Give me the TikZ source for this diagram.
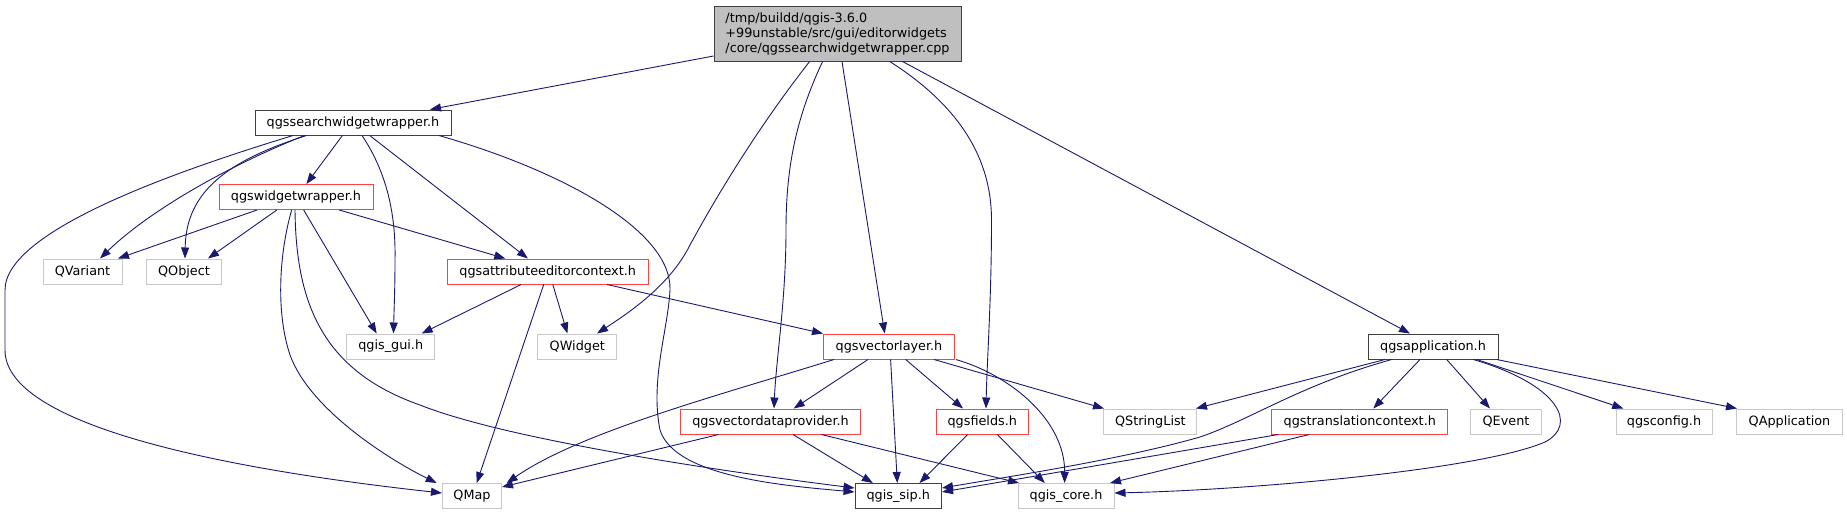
\documentclass[tikz,border=0pt]{standalone}
\usepackage{fontspec}
\setmainfont{DejaVu Sans}
\usetikzlibrary{arrows.meta}
\definecolor{edgec}{HTML}{191970}
\definecolor{rootfill}{HTML}{BFBFBF}
\definecolor{redc}{HTML}{FF4040}
\definecolor{grayc}{HTML}{C8C8C8}
\definecolor{blkc}{HTML}{404040}
\newcommand{\fs}{\fontsize{12.8}{15}\selectfont}
\tikzset{
  box/.style={draw, line width=1pt, minimum height=25pt, inner sep=0pt, font=\fs, anchor=center},
  blk/.style={box, draw=blkc},
  redb/.style={box, draw=redc},
  grayb/.style={box, draw=grayc},
  rootb/.style={box, draw=blkc, fill=rootfill},
  e/.style={draw=edgec, line width=0.9pt, -{Triangle[length=11pt,width=8pt]}}
}
\begin{document}
\begin{tikzpicture}[x=1pt,y=-1pt]
\useasboundingbox (0,0) rectangle (1847,515);
% nodes
\node[rootb, minimum width=247pt, minimum height=55pt, align=left] (root) at (837.5,33.5) {/tmp/buildd/qgis-3.6.0\\+99unstable/src/gui/editorwidgets\\/core/qgssearchwidgetwrapper.cpp};
\node[blk, minimum width=196pt] (ssw) at (353,122.5) {qgssearchwidgetwrapper.h};
\node[redb, minimum width=154pt] (qgw) at (296,197) {qgswidgetwrapper.h};
\node[grayb, minimum width=79pt] (qvar) at (82.5,271.5) {QVariant};
\node[grayb, minimum width=75pt] (qobj) at (184,271.5) {QObject};
\node[redb, minimum width=201pt] (ctx) at (547.7,271.5) {qgsattributeeditorcontext.h};
\node[grayb, minimum width=88pt] (gui) at (390.7,346.5) {qgis\_gui.h};
\node[grayb, minimum width=79pt] (qwid) at (577.3,346.5) {QWidget};
\node[redb, minimum width=130.5pt] (vl) at (889,346.5) {qgsvectorlayer.h};
\node[blk, minimum width=130pt] (app) at (1433,346.5) {qgsapplication.h};
\node[redb, minimum width=180pt] (vdp) at (770.5,421.5) {qgsvectordataprovider.h};
\node[redb, minimum width=92.5pt] (fields) at (982.3,421.5) {qgsfields.h};
\node[grayb, minimum width=93pt] (qsl) at (1150.4,421.5) {QStringList};
\node[redb, minimum width=176pt] (tc) at (1359.8,421.5) {qgstranslationcontext.h};
\node[grayb, minimum width=70.5pt] (qev) at (1506,421.5) {QEvent};
\node[grayb, minimum width=96pt] (cfg) at (1664,421.5) {qgsconfig.h};
\node[grayb, minimum width=105.5pt] (qapp) at (1789.5,421.5) {QApplication};
\node[grayb, minimum width=59pt] (qmap) at (472,496) {QMap};
\node[blk, minimum width=86.5pt] (sip) at (898.3,496) {qgis\_sip.h};
\node[grayb, minimum width=96pt] (core) at (1066,496) {qgis\_core.h};
% edges from root
\draw[e] (root.west |- 0,56) -- (ssw.north -| 430,0);
\draw[e] (root.south -| 809.6,0) .. controls (760,125) and (720,190) .. (690,245) .. controls (670,285) and (630,312) .. (qwid.north -| 597,0);
\draw[e] (root.south -| 822.6,0) .. controls (795,120) and (786,170) .. (786,230) .. controls (786,300) and (776,360) .. (vdp.north -| 774,0);
\draw[e] (root.south -| 842,0) -- (vl.north -| 884.7,0);
\draw[e] (root.south -| 889.8,0) .. controls (950,100) and (991.5,150) .. (991.5,220) .. controls (991.5,300) and (987,360) .. (fields.north -| 986,0);
\draw[e] (root.south -| 902.5,0) -- (app.north -| 1410,0);
% edges from qgssearchwidgetwrapper.h
\draw[e] (ssw.south -| 293,0) .. controls (180,170) and (5,230) .. (5,290) -- (5,350) .. controls (5,430) and (250,472) .. (qmap.west |- 0,493);
\draw[e] (ssw.south -| 304.5,0) .. controls (230,165) and (150,210) .. (qvar.north -| 100,0);
\draw[e] (ssw.south -| 306.5,0) .. controls (230,160) and (186,190) .. (qobj.north -| 185,0);
\draw[e] (ssw.south -| 342.4,0) -- (qgw.north -| 306.4,0);
\draw[e] (ssw.south -| 362,0) .. controls (385,170) and (396,210) .. (395,260) .. controls (395,290) and (394,310) .. (gui.north -| 393.5,0);
\draw[e] (ssw.south -| 369.7,0) -- (ctx.north -| 527.9,0);
\draw[e] (ssw.south -| 438.9,0) .. controls (560,170) and (672,230) .. (670,290) .. controls (668,330) and (650,380) .. (660,430) .. controls (675,478) and (790,486) .. (sip.west |- 0,492);
% edges from qgswidgetwrapper.h
\draw[e] (qgw.south -| 257,0) -- (qvar.north -| 118,0);
\draw[e] (qgw.south -| 276.8,0) -- (qobj.north -| 208,0);
\draw[e] (qgw.south -| 291.7,0) .. controls (280,250) and (275,310) .. (290,355) .. controls (310,410) and (390,460) .. (qmap.north -| 436.7,0);
\draw[e] (qgw.south -| 295,0) .. controls (296,300) and (320,370) .. (420,405) .. controls (520,445) and (790,480) .. (sip.west |- 0,488);
\draw[e] (qgw.south -| 303.7,0) -- (gui.north -| 376.7,0);
\draw[e] (qgw.south -| 339.3,0) -- (ctx.north -| 505.3,0);
% edges from qgsattributeeditorcontext.h
\draw[e] (ctx.south -| 521.2,0) -- (gui.north -| 421.7,0);
\draw[e] (ctx.south -| 543.7,0) -- (qmap.north -| 476.7,0);
\draw[e] (ctx.south -| 552.8,0) -- (qwid.north -| 567.4,0);
\draw[e] (ctx.south -| 607,0) -- (vl.north -| 823,0);
% edges from qgsvectorlayer.h
\draw[e] (vl.south -| 834,0) .. controls (720,395) and (580,432) .. (qmap.north -| 506.7,0);
\draw[e] (vl.south -| 868,0) -- (vdp.north -| 793.7,0);
\draw[e] (vl.south -| 890.6,0) -- (sip.north -| 897.3,0);
\draw[e] (vl.south -| 905.7,0) -- (fields.north -| 963,0);
\draw[e] (vl.south -| 934,0) -- (qsl.north -| 1104,0);
\draw[e] (vl.south -| 955.9,0) .. controls (1010,375) and (1065,420) .. (core.north -| 1064.6,0);
% edges from qgsvectordataprovider.h
\draw[e] (vdp.south -| 718.6,0) -- (qmap.east |- 0,487);
\draw[e] (vdp.south -| 793,0) -- (sip.north -| 872.8,0);
\draw[e] (vdp.south -| 821.4,0) -- (core.north -| 1019,0);
% edges from qgsfields.h
\draw[e] (fields.south -| 967.7,0) -- (sip.north -| 919.5,0);
\draw[e] (fields.south -| 997.4,0) -- (core.north -| 1044.8,0);
% edges from qgsapplication.h
\draw[e] (app.south -| 1385,0) -- (qsl.north -| 1196,0);
\draw[e] (app.south -| 1391.7,0) .. controls (1300,385) and (1250,420) .. (1200,437) .. controls (1120,460) and (1000,478) .. (sip.east |- 0,488);
\draw[e] (app.south -| 1420,0) -- (tc.north -| 1373.3,0);
\draw[e] (app.south -| 1446.7,0) -- (qev.north -| 1490,0);
\draw[e] (app.south -| 1473.3,0) .. controls (1560,385) and (1578,425) .. (1545,442) .. controls (1480,470) and (1250,490) .. (core.east |- 0,493);
\draw[e] (app.south -| 1476.7,0) -- (cfg.north -| 1623.3,0);
\draw[e] (app.south -| 1496.7,0) -- (qapp.north -| 1737,0);
% edges from qgstranslationcontext.h
\draw[e] (tc.south -| 1278.4,0) -- (sip.east |- 0,492);
\draw[e] (tc.south -| 1309.3,0) -- (core.north -| 1110,0);
\end{tikzpicture}
\end{document}
